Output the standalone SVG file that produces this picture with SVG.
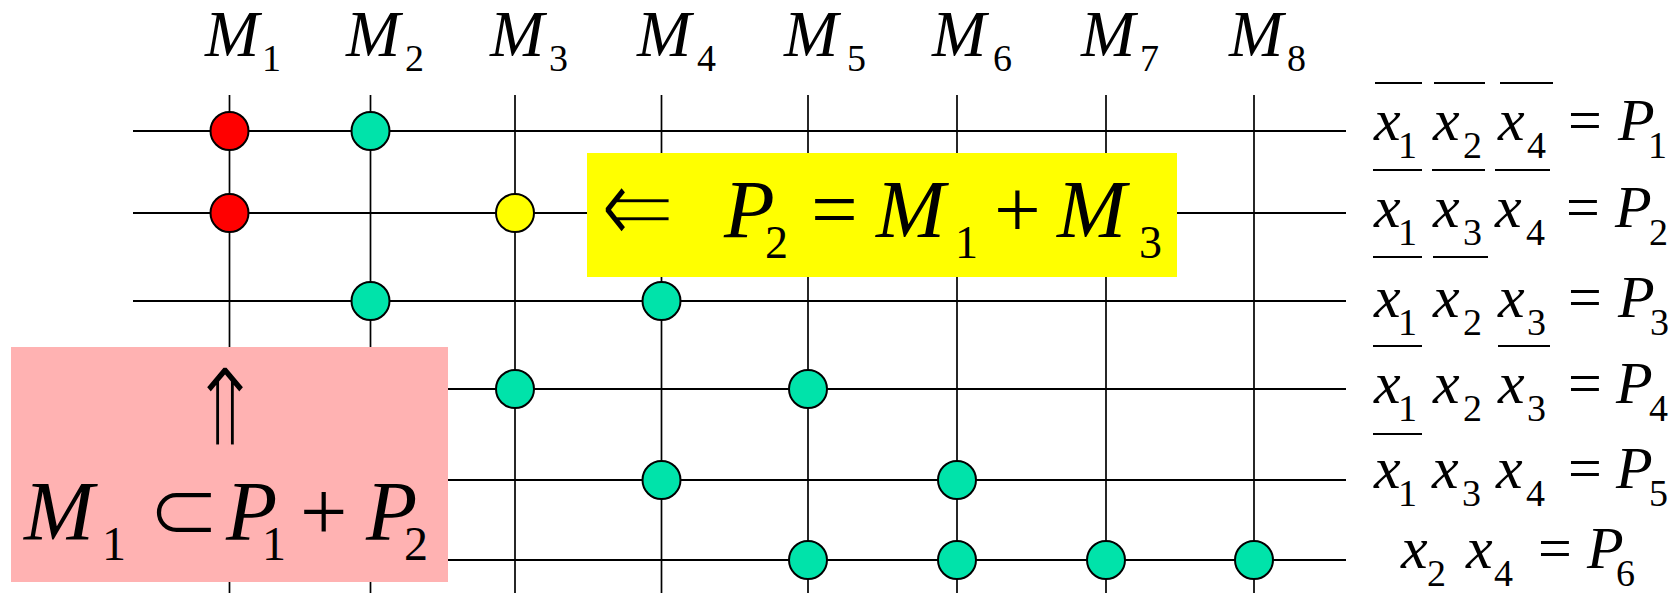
<svg xmlns="http://www.w3.org/2000/svg" width="1672" height="593" viewBox="0 0 1672 593">
<style>
text{font-family:"Liberation Serif","Times New Roman",serif;fill:#000}
.it{font-style:italic}
.rm{font-style:normal}
.sym{font-family:"DejaVu Sans","DejaVu Serif",sans-serif;font-style:normal}
.thin-y{stroke:#FFFF00;stroke-width:2.4}
.thin-p{stroke:#FFB2B2;stroke-width:2.2}
.vl{stroke:#000;stroke-width:1.7}
.hl{stroke:#000;stroke-width:2.2}
.bar{stroke:#000;stroke-width:2}
.dot{stroke:#000;stroke-width:2}
.g{fill:#00E3AA}
.r{fill:#FF0000}
.y{fill:#FFFF00}
</style>
<rect width="1672" height="593" fill="#fff"/>
<g id="connectors">
<line class="vl" x1="229.5" y1="95" x2="229.5" y2="593"/>
<line class="vl" x1="370.5" y1="95" x2="370.5" y2="593"/>
<line class="vl" x1="515" y1="95" x2="515" y2="593"/>
<line class="vl" x1="661.5" y1="95" x2="661.5" y2="593"/>
<line class="vl" x1="808" y1="95" x2="808" y2="593"/>
<line class="vl" x1="957" y1="95" x2="957" y2="593"/>
<line class="vl" x1="1106" y1="95" x2="1106" y2="593"/>
<line class="vl" x1="1254" y1="95" x2="1254" y2="593"/>
<line class="hl" x1="133" y1="131" x2="1346" y2="131"/>
<line class="hl" x1="133" y1="213" x2="1346" y2="213"/>
<line class="hl" x1="133" y1="301" x2="1346" y2="301"/>
<line class="hl" x1="133" y1="389" x2="1346" y2="389"/>
<line class="hl" x1="133" y1="480" x2="1346" y2="480"/>
<line class="hl" x1="133" y1="560" x2="1346" y2="560"/>
</g>
<g id="headers" font-size="65">
<text><tspan class="it" x="205" y="56">M</tspan><tspan class="rm" x="262" y="71" font-size="38">1</tspan></text>
<text><tspan class="it" x="346" y="56">M</tspan><tspan class="rm" x="405" y="71" font-size="38">2</tspan></text>
<text><tspan class="it" x="490" y="56">M</tspan><tspan class="rm" x="549" y="71" font-size="38">3</tspan></text>
<text><tspan class="it" x="637" y="56">M</tspan><tspan class="rm" x="697" y="71" font-size="38">4</tspan></text>
<text><tspan class="it" x="784" y="56">M</tspan><tspan class="rm" x="847" y="71" font-size="38">5</tspan></text>
<text><tspan class="it" x="932" y="56">M</tspan><tspan class="rm" x="993" y="71" font-size="38">6</tspan></text>
<text><tspan class="it" x="1081" y="56">M</tspan><tspan class="rm" x="1140" y="71" font-size="38">7</tspan></text>
<text><tspan class="it" x="1229" y="56">M</tspan><tspan class="rm" x="1287" y="71" font-size="38">8</tspan></text>
</g>
<g id="box-p2">
<rect x="587" y="153" width="590" height="124" fill="#FFFF00"/>
<text class="sym thin-y" transform="translate(600,245) scale(1.12,1.4)" x="0" y="0" font-size="80">⇐</text>
<text font-size="83"><tspan class="it" x="724" y="237">P</tspan><tspan class="rm" x="765" y="258" font-size="46">2</tspan><tspan class="rm" x="811" y="237">=</tspan><tspan class="it" x="876" y="237">M</tspan><tspan class="rm" x="955" y="258" font-size="46">1</tspan><tspan class="rm" x="994" y="237">+</tspan><tspan class="it" x="1057" y="237">M</tspan><tspan class="rm" x="1139" y="258" font-size="46">3</tspan></text>
</g>
<g id="box-m1">
<rect x="11" y="347" width="437" height="235" fill="#FFB2B2"/>
<text class="sym thin-p" transform="translate(225,446) scale(1.15,1.36)" x="0" y="0" font-size="80" text-anchor="middle">⇑</text>
<text font-size="84"><tspan class="it" x="24" y="540">M</tspan><tspan class="rm" x="102" y="560" font-size="48">1</tspan><tspan class="sym thin-p" x="147" y="540" font-size="88">⊂</tspan><tspan class="it" x="226" y="540">P</tspan><tspan class="rm" x="262" y="560" font-size="48">1</tspan><tspan class="rm" x="300" y="540">+</tspan><tspan class="it" x="366" y="540">P</tspan><tspan class="rm" x="404" y="560" font-size="48">2</tspan></text>
</g>
<g id="nodes">
<circle id="n-r1-m1" class="dot r" cx="229.5" cy="131" r="19"/>
<circle id="n-r1-m2" class="dot g" cx="370.5" cy="131" r="19"/>
<circle id="n-r2-m1" class="dot r" cx="229.5" cy="213" r="19"/>
<circle id="n-r2-m3" class="dot y" cx="515" cy="213" r="19"/>
<circle id="n-r3-m2" class="dot g" cx="370.5" cy="301" r="19"/>
<circle id="n-r3-m4" class="dot g" cx="661.5" cy="301" r="19"/>
<circle id="n-r4-m3" class="dot g" cx="515" cy="389" r="19"/>
<circle id="n-r4-m5" class="dot g" cx="808" cy="389" r="19"/>
<circle id="n-r5-m4" class="dot g" cx="661.5" cy="480" r="19"/>
<circle id="n-r5-m6" class="dot g" cx="957" cy="480" r="19"/>
<circle id="n-r6-m5" class="dot g" cx="808" cy="560" r="19"/>
<circle id="n-r6-m6" class="dot g" cx="957" cy="560" r="19"/>
<circle id="n-r6-m7" class="dot g" cx="1106" cy="560" r="19"/>
<circle id="n-r6-m8" class="dot g" cx="1254" cy="560" r="19"/>
</g>
<g id="equations" font-size="60">
<text id="eq-p1"><tspan class="it" x="1374" y="140">x</tspan><tspan class="rm" x="1398" y="158" font-size="38">1</tspan><tspan class="it" x="1433" y="140">x</tspan><tspan class="rm" x="1463" y="158" font-size="38">2</tspan><tspan class="it" x="1498" y="140">x</tspan><tspan class="rm" x="1527" y="158" font-size="38">4</tspan><tspan class="rm" x="1568" y="140">=</tspan><tspan class="it" x="1618" y="140">P</tspan><tspan class="rm" x="1648" y="158" font-size="38">1</tspan></text>
<text id="eq-p2"><tspan class="it" x="1374" y="227">x</tspan><tspan class="rm" x="1398" y="245" font-size="38">1</tspan><tspan class="it" x="1433" y="227">x</tspan><tspan class="rm" x="1463" y="245" font-size="38">3</tspan><tspan class="it" x="1495" y="227">x</tspan><tspan class="rm" x="1526" y="245" font-size="38">4</tspan><tspan class="rm" x="1566" y="227">=</tspan><tspan class="it" x="1615" y="227">P</tspan><tspan class="rm" x="1649" y="245" font-size="38">2</tspan></text>
<text id="eq-p3"><tspan class="it" x="1374" y="317">x</tspan><tspan class="rm" x="1398" y="335" font-size="38">1</tspan><tspan class="it" x="1433" y="317">x</tspan><tspan class="rm" x="1463" y="335" font-size="38">2</tspan><tspan class="it" x="1498" y="317">x</tspan><tspan class="rm" x="1527" y="335" font-size="38">3</tspan><tspan class="rm" x="1568" y="317">=</tspan><tspan class="it" x="1618" y="317">P</tspan><tspan class="rm" x="1650" y="335" font-size="38">3</tspan></text>
<text id="eq-p4"><tspan class="it" x="1374" y="403">x</tspan><tspan class="rm" x="1398" y="421" font-size="38">1</tspan><tspan class="it" x="1433" y="403">x</tspan><tspan class="rm" x="1463" y="421" font-size="38">2</tspan><tspan class="it" x="1498" y="403">x</tspan><tspan class="rm" x="1527" y="421" font-size="38">3</tspan><tspan class="rm" x="1568" y="403">=</tspan><tspan class="it" x="1616" y="403">P</tspan><tspan class="rm" x="1649" y="421" font-size="38">4</tspan></text>
<text id="eq-p5"><tspan class="it" x="1374" y="488">x</tspan><tspan class="rm" x="1398" y="506" font-size="38">1</tspan><tspan class="it" x="1432" y="488">x</tspan><tspan class="rm" x="1462" y="506" font-size="38">3</tspan><tspan class="it" x="1496" y="488">x</tspan><tspan class="rm" x="1526" y="506" font-size="38">4</tspan><tspan class="rm" x="1568" y="488">=</tspan><tspan class="it" x="1616" y="488">P</tspan><tspan class="rm" x="1649" y="506" font-size="38">5</tspan></text>
<text id="eq-p6"><tspan class="it" x="1401" y="568">x</tspan><tspan class="rm" x="1427" y="586" font-size="38">2</tspan><tspan class="it" x="1466" y="568">x</tspan><tspan class="rm" x="1494" y="586" font-size="38">4</tspan><tspan class="rm" x="1538" y="568">=</tspan><tspan class="it" x="1587" y="568">P</tspan><tspan class="rm" x="1616" y="586" font-size="38">6</tspan></text>
</g>
<g id="bars">
<line class="bar" x1="1375" y1="83" x2="1422" y2="83"/>
<line class="bar" x1="1434" y1="83" x2="1485" y2="83"/>
<line class="bar" x1="1500" y1="83" x2="1553" y2="83"/>
<line class="bar" x1="1373" y1="170" x2="1422" y2="170"/>
<line class="bar" x1="1432" y1="170" x2="1485" y2="170"/>
<line class="bar" x1="1495" y1="170" x2="1550" y2="170"/>
<line class="bar" x1="1373" y1="257" x2="1422" y2="257"/>
<line class="bar" x1="1433" y1="257" x2="1488" y2="257"/>
<line class="bar" x1="1373" y1="346" x2="1422" y2="346"/>
<line class="bar" x1="1498" y1="346" x2="1550" y2="346"/>
<line class="bar" x1="1373" y1="434" x2="1422" y2="434"/>
</g>
</svg>
